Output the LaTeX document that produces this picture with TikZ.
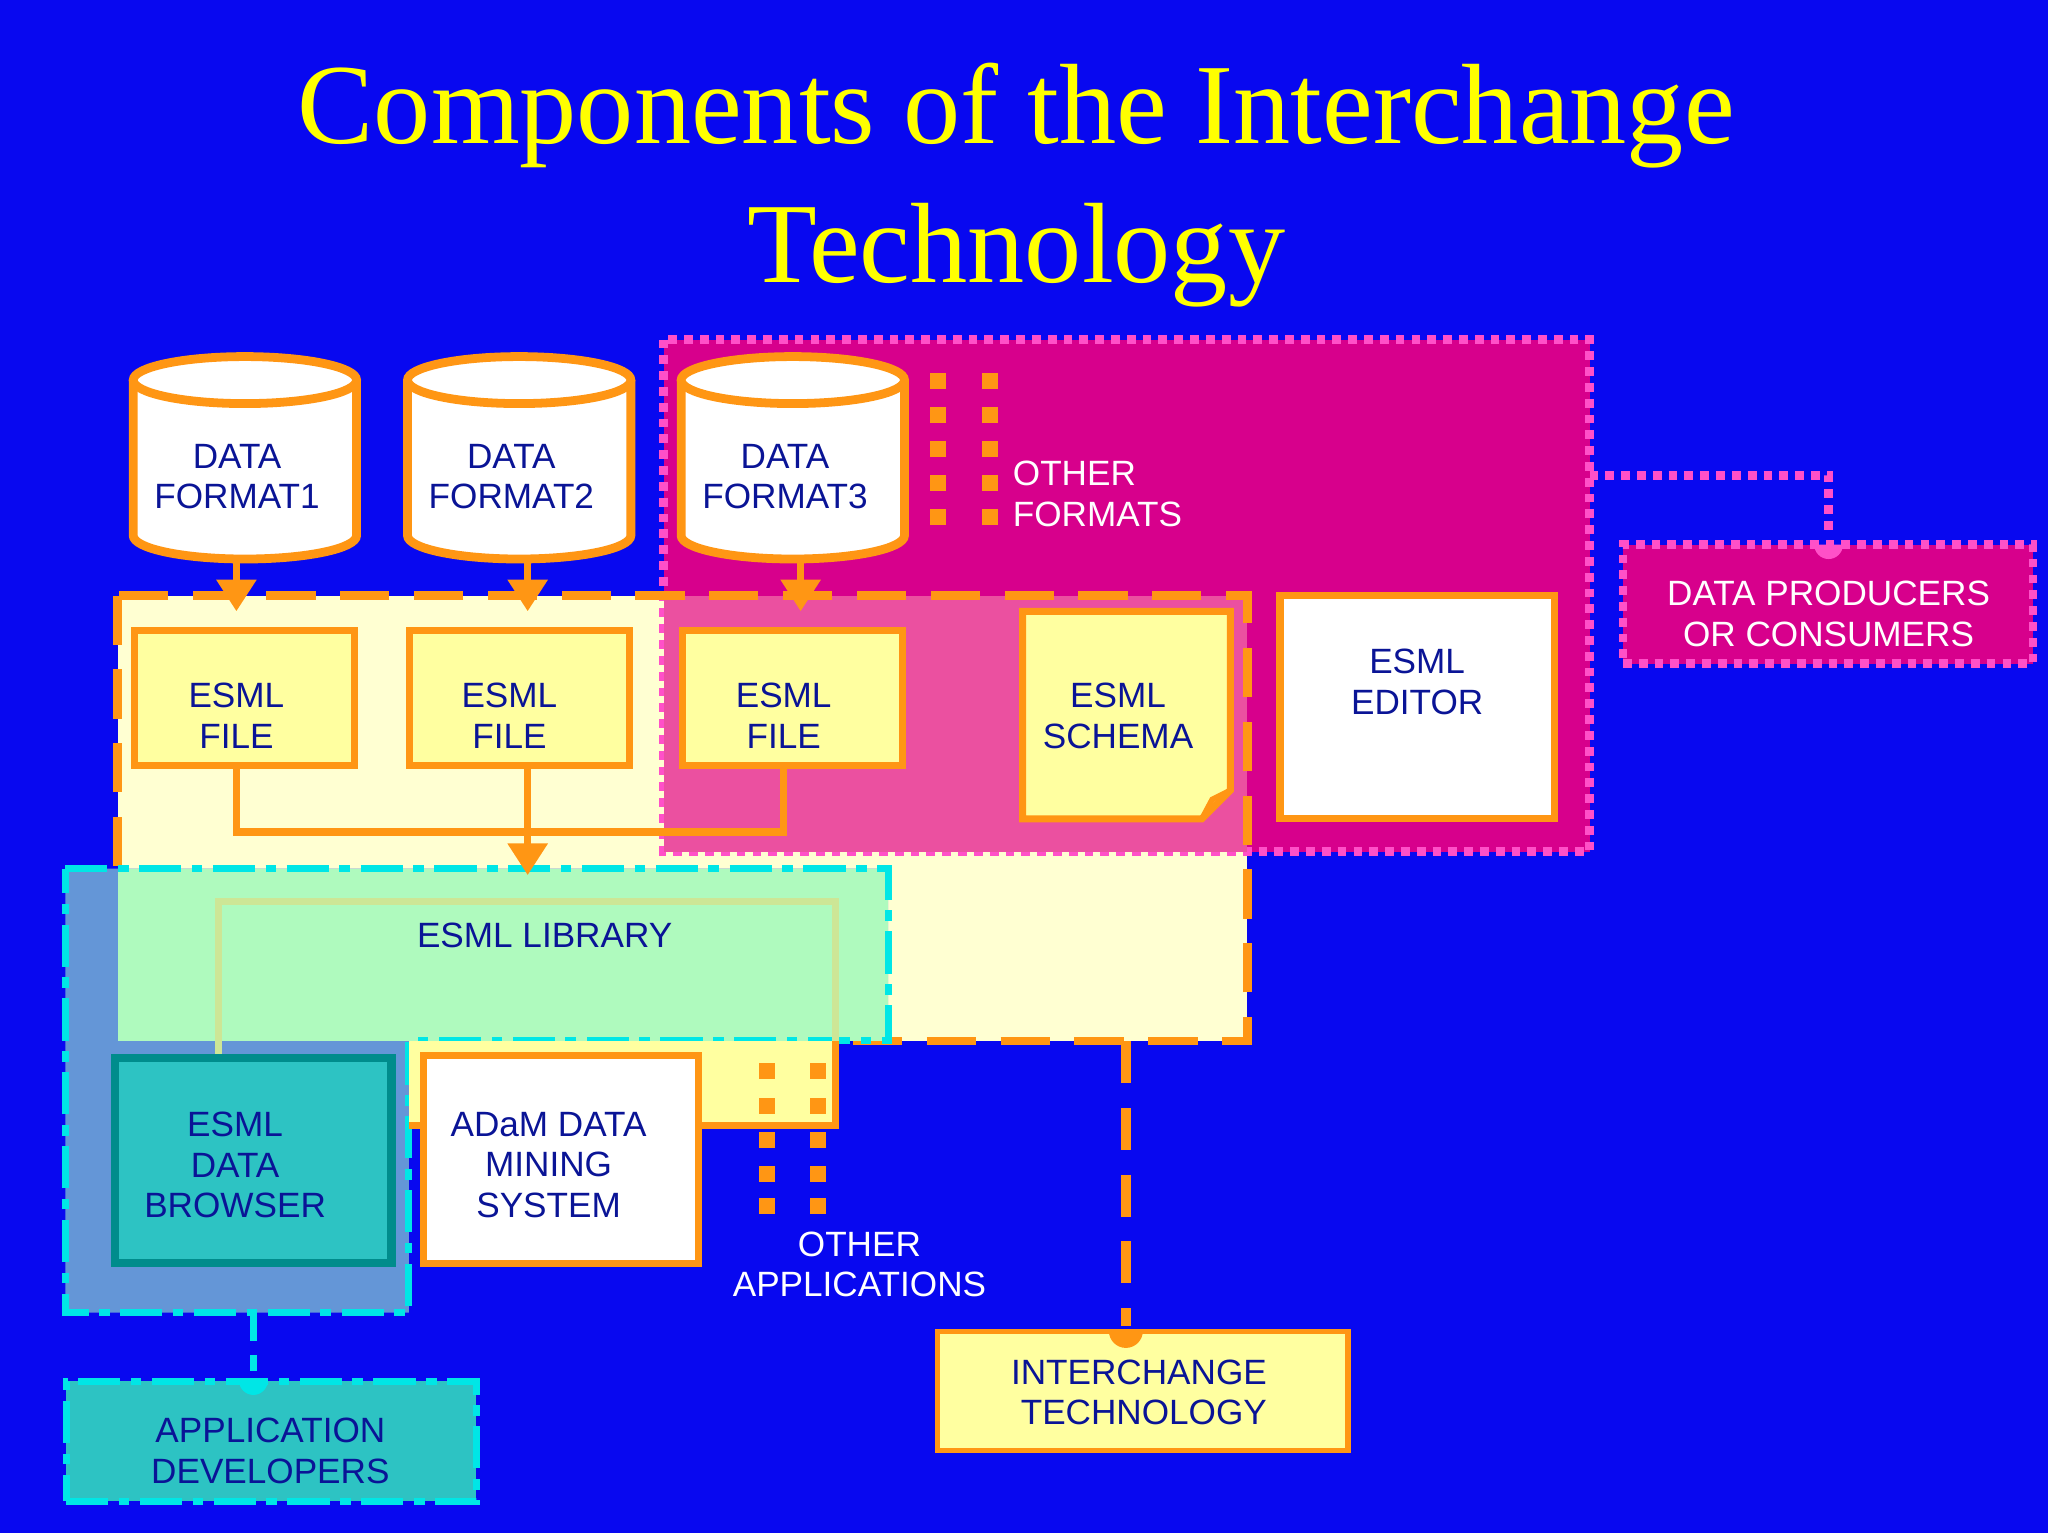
\documentclass[tikz,border=0pt]{standalone}
\usepackage{fontspec}
\setmainfont{Liberation Serif}
\setsansfont{Liberation Sans}
\usetikzlibrary{arrows.meta}
\definecolor{bg}{RGB}{8,8,240}
\definecolor{ttl}{RGB}{255,255,0}
\definecolor{org}{RGB}{255,150,20}
\definecolor{mag}{RGB}{215,0,140}
\definecolor{magb}{RGB}{255,80,200}
\definecolor{lyel}{RGB}{255,255,210}
\definecolor{yel}{RGB}{255,255,160}
\definecolor{ovl}{RGB}{235,80,160}
\definecolor{dblue}{RGB}{10,20,150}
\definecolor{cyn}{RGB}{0,230,230}
\definecolor{grn}{RGB}{175,250,190}
\definecolor{hatch}{RGB}{100,150,215}
\definecolor{teal}{RGB}{45,195,195}
\definecolor{dteal}{RGB}{0,140,140}
\tikzset{
 lbl/.style={font=\sffamily\fontsize{10}{11.5}\selectfont,align=center,text=dblue},
 wlbl/.style={font=\sffamily\fontsize{10}{11.5}\selectfont,align=left,text=white},
 ybox/.style={draw=org,line width=2pt,fill=yel},
 dotsq/.style={fill=org,minimum size=0.16cm,inner sep=0pt},
 oline/.style={draw=org,line width=2pt},
}
\begin{document}
\begin{tikzpicture}[x=0.013061cm,y=-0.013061cm]
\fill[bg] (0,0) rectangle (1568,1174);
\useasboundingbox (0,0) rectangle (1568,1174);
\node[text=ttl,font=\fontsize{32.5}{39.5}\selectfont,align=center] (title) at (778,142) {Components of the Interchange\\Technology};
% regions
\fill[lyel] (90,456) rectangle (955,797);
\draw[magb,dotted,line width=2.5pt,fill=mag] (508,260) rectangle (1217,652);
\fill[ovl] (508,456) rectangle (955,652);
\draw[org,line width=2.5pt,dash pattern=on 14pt off 7pt] (90,456) rectangle (955,797);
% cylinders
\foreach \cx/\nm/\t in {187.5/c1/1,397.5/c2/2,607/c3/3}{
 \draw[org,line width=2.5pt,fill=white] (\cx-85.5,291) -- (\cx-85.5,410) arc[start angle=180,end angle=0,x radius=85.5,y radius=18] -- (\cx+85.5,291);
 \draw[org,line width=2.5pt,fill=white] (\cx,291) ellipse [x radius=85.5,y radius=18];
 \node[lbl] (\nm) at (\cx-6,365) {DATA\\FORMAT\t};
}
% other formats dots
\foreach \yy in {292,318,344,370,396}{\node[dotsq] (of\yy a) at (718,\yy) {};\node[dotsq] (of\yy b) at (758,\yy) {};}
\node[wlbl,anchor=west] (of) at (766,378) {OTHER\\FORMATS};
% files
\node[ybox,minimum width=2.2cm,minimum height=1.35cm] (f1) at (187.5,534.5) {};
\node[ybox,minimum width=2.2cm,minimum height=1.35cm] (f2) at (397.5,534.5) {};
\node[ybox,minimum width=2.2cm,minimum height=1.35cm] (f3) at (607,534.5) {};
\node[lbl] at (181,548) {ESML\\FILE};
\node[lbl] at (390,548) {ESML\\FILE};
\node[lbl] at (600,548) {ESML\\FILE};
\foreach \a/\b/\x in {c1/f1/181,c2/f2/404,c3/f3/613}{
 \draw[oline,-{Triangle[length=9pt,width=11pt]}] (\x,430) -- (\x,468);}
% schema
\draw[org,line width=2pt,fill=yel] (783,468) -- (942,468) -- (942,605) -- (920,627) -- (783,627) -- cycle;
\draw[org,line width=1.5pt] (942,605) -- (928,612) -- (920,627);
\node[lbl] (schema) at (856,548) {ESML\\SCHEMA};
% editor
\draw[org,line width=2pt,fill=white] (980,456) rectangle (1190,627);
\node[lbl] (editor) at (1085,522) {ESML\\EDITOR};
% connectors
\draw[oline] (181,587) -- (181,637) -- (600,637) -- (600,587);
% application region
\fill[hatch] (50,665) -- (680,665) -- (680,797) -- (313,797) -- (313,1005) -- (50,1005) -- cycle;
\fill[grn] (90,665) rectangle (680,797);
\draw[cyn,line width=2pt,dash pattern=on 12pt off 3pt on 3pt off 3pt] (50,665) -- (680,665) -- (680,797) -- (313,797) -- (313,1005) -- (50,1005) -- cycle;
\draw[oline,-{Triangle[length=9pt,width=11pt]}] (404,587) -- (404,670);
\fill[yel] (313,797) rectangle (640,862);
\draw[org,line width=2pt] (313,862) -- (640,862) -- (640,797);
\draw[draw={rgb,255:red,205;green,230;blue,150},line width=2pt] (167,808) -- (167,690) -- (640,690) -- (640,797);
\node[lbl] (lib) at (417,716) {ESML LIBRARY};
% browser & adam
\draw[dteal,line width=2.5pt,fill=teal] (88,810) rectangle (300,967);
\node[lbl] (brow) at (180,892) {ESML\\DATA\\BROWSER};
\draw[org,line width=2pt,fill=white] (324,808) rectangle (535,967);
\node[lbl] (adam) at (420,892) {ADaM DATA\\MINING\\SYSTEM};
\foreach \yy in {820,847,873,899,923}{\node[dotsq] (oa\yy a) at (587,\yy) {};\node[dotsq] (oa\yy b) at (626,\yy) {};}
\node[wlbl,align=center] (oa) at (658,968) {OTHER\\APPLICATIONS};
% interchange
\node[draw=org,line width=1.5pt,fill=yel,minimum width=4.1cm,minimum height=1.19cm] (it) at (875,1065) {};
\node[lbl] at (872,1066) {INTERCHANGE\\\ TECHNOLOGY};
\draw[org,line width=3pt,dash pattern=on 12pt off 7pt] (862,797) -- (862,1015);
\fill[org] (862,1019) ++(-13,0) arc[start angle=180,end angle=0,radius=13] -- cycle;
% developers
\node[draw=cyn,fill=teal,line width=2pt,dash pattern=on 12pt off 3pt on 3pt off 3pt,minimum width=4.1cm,minimum height=1.2cm] (dev) at (207.5,1103.5) {};
\node[lbl] at (207,1111) {APPLICATION\\DEVELOPERS};
\draw[cyn,line width=2pt,dash pattern=on 8pt off 4pt] (194,1005) -- (194,1050);
\fill[cyn] (194,1057) ++(-11,0) arc[start angle=180,end angle=0,radius=11] -- cycle;
% producers
\node[draw=magb,fill=mag,line width=2.5pt,dotted,minimum width=4.1cm,minimum height=1.19cm] (prod) at (1399.5,462.5) {};
\node[wlbl,align=center] at (1400,470) {DATA PRODUCERS\\OR CONSUMERS};
\draw[magb,dotted,line width=2.5pt] (1217,364) -- (1400,364) -- (1400,410);
\fill[magb] (1400,417) ++(-11,0) arc[start angle=180,end angle=0,radius=11] -- cycle;
\end{tikzpicture}
\end{document}
